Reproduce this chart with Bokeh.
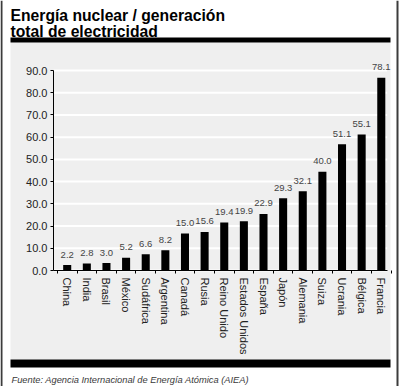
from bokeh.plotting import figure
from bokeh.models import (ColumnDataSource, Range1d, FixedTicker, Label,
                          BoxAnnotation)
from bokeh.core.properties import value
from bokeh.embed import file_html
from bokeh.resources import INLINE

# ---- data ----
countries = ["China", "India", "Brasil", "México", "Sudáfrica", "Argentina",
             "Canadá", "Rusia", "Reino Unido", "Estados Unidos", "España",
             "Japón", "Alemania", "Suiza", "Ucrania", "Bélgica", "Francia"]
share = [2.2, 2.8, 3.0, 5.2, 6.6, 8.2, 15.0, 15.6, 19.4, 19.9, 22.9,
         29.3, 32.1, 40.0, 51.1, 55.1, 78.1]
tick_labels = ["0.0", "10.0", "20.0", "30.0", "40.0", "50.0",
               "60.0", "70.0", "80.0", "90.0"]
title_lines = ["Energía nuclear / generación", "total de electricidad"]
source_note = "Fuente: Agencia Internacional de Energía Atómica (AIEA)"

# as printed, each "10.0" step of the axis spans 9 units of bar height
tick_step = 9.0
tick_pos = [tick_step * i for i in range(len(tick_labels))]
axis_top = tick_pos[-1]

xpos = list(range(len(countries)))
src = ColumnDataSource(dict(x=xpos, share=share,
                            label=["%.1f" % v for v in share]))

FONT = "Liberation Sans"
PANEL = "#efefef"
W, H = 400, 386

# layout constants (category units)
AX_LEFT, AX_RIGHT = -0.70, 16.30

p = figure(width=W, height=H, output_backend="svg", toolbar_location=None,
           x_range=Range1d(-3.398, 16.979), y_range=Range1d(-46.98, 109.35),
           min_border_left=0, min_border_right=0,
           min_border_top=0, min_border_bottom=0)
p.border_fill_color = "white"
p.background_fill_color = "white"
p.outline_line_color = None
p.xgrid.visible = False
p.ygrid.visible = False

# page furniture (screen units from the frame's lower-left corner = page)
def box(left, right, top, bottom, color, level="annotation"):
    p.add_layout(BoxAnnotation(left=left, right=right, top=H - top, bottom=H - bottom,
                               left_units="screen", right_units="screen",
                               top_units="screen", bottom_units="screen",
                               fill_color=color, fill_alpha=1, line_color=None,
                               level=level))

box(10, 390, 42, 359, PANEL, level="image")   # grey panel
box(10, 390, 37, 42, "black")                 # top rule
box(10, 390, 359, 367, "black")               # bottom rule
box(0, 2, 0, H, "#3c3c3c")                    # left frame line
box(396, 398, 0, H, "#3c3c3c")                # right frame line

# white gridlines limited to the axis extent
p.segment(x0=[AX_LEFT] * len(tick_pos), x1=[AX_RIGHT] * len(tick_pos),
          y0=tick_pos, y1=tick_pos, line_color="white", line_width=2,
          level="underlay")

p.vbar(x="x", top="share", width=0.41, source=src,
       fill_color="black", line_color=None)

p.text(x="x", y="share", text="label", source=src,
       text_align="center", text_baseline="bottom", y_offset=-7.5,
       text_font=value(FONT), text_font_size="9.5px", text_color="#444444")

# axes
ya = p.yaxis[0]
ya.fixed_location = AX_LEFT
ya.bounds = (0, axis_top)
ya.ticker = FixedTicker(ticks=tick_pos)
ya.major_label_overrides = {t: s for t, s in zip(tick_pos, tick_labels)}
ya.minor_tick_line_color = None
ya.major_tick_in = 0
ya.major_tick_out = 3
ya.major_label_standoff = 3
ya.major_label_text_font = FONT
ya.major_label_text_font_size = "11px"
ya.major_label_text_color = "#222222"
ya.axis_line_color = "black"

xa = p.xaxis[0]
xa.fixed_location = 0
xa.bounds = (AX_LEFT, AX_RIGHT)
xa.ticker = FixedTicker(ticks=xpos,
                        minor_ticks=[i - 0.5 for i in xpos] + [len(xpos) - 0.5])
xa.major_label_overrides = {i: c for i, c in zip(xpos, countries)}
xa.major_tick_line_color = None
xa.major_tick_in = 0
xa.major_tick_out = 0
xa.minor_tick_in = 0
xa.minor_tick_out = 3
xa.minor_tick_line_color = "black"
xa.major_label_orientation = "vertical"
xa.major_label_standoff = 4
xa.major_label_text_font = FONT
xa.major_label_text_font_size = "11px"
xa.major_label_text_color = "#222222"
xa.axis_line_color = "black"

def label(x, y, text, **kw):
    p.add_layout(Label(x=x, y=H - y, x_units="screen", y_units="screen",
                       text=text, text_font=FONT, text_baseline="alphabetic", **kw))

label(10, 15, title_lines[0], text_font_style="bold", text_font_size="15.7px",
      text_color="black")
label(10, 31, title_lines[1], text_font_style="bold", text_font_size="15.7px",
      text_color="black")
label(11, 379, source_note, text_font_style="italic", text_font_size="9.3px",
      text_color="#3a3a3a")

open("out.html", "w").write(file_html(p, INLINE))
